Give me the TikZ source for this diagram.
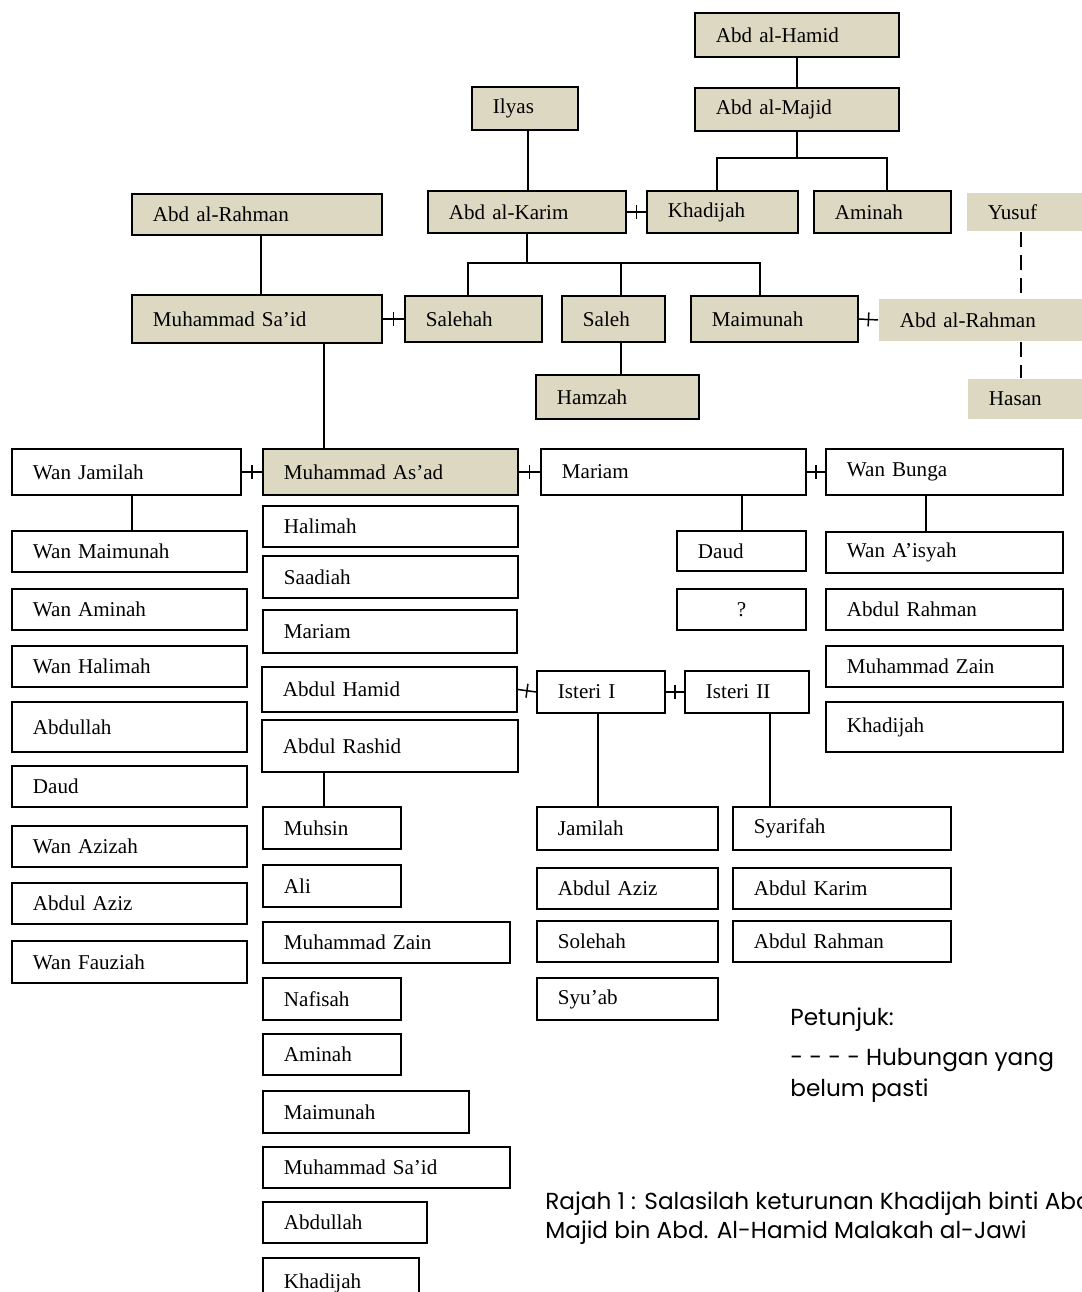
\documentclass[tikz,border=0pt]{standalone}
\usepackage{fontspec}
\setmainfont{Liberation Serif}
\newfontfamily\capfont{Poppins}
\usetikzlibrary{decorations.markings}

\definecolor{kinfill}{RGB}{221,216,194}

\tikzset{
  person/.style={draw, line width=1.1pt, anchor=north west, inner xsep=0.42cm, inner ysep=0pt,
    align=left, font=\fontsize{12}{14}\selectfont},
  kin/.style={fill=kinfill},
  ghost/.style={draw=none, fill=kinfill},
  link/.style={line width=0.85pt},
  unsure/.style={line width=0.85pt, dash pattern=on 0.3cm off 0.16cm},
  spouse/.style={link, postaction={decorate},
    decoration={markings, mark=at position 0.5 with {\draw[link] (0,-7) -- (0,7);}}},
  note/.style={anchor=base west, inner sep=0pt, font=\capfont\fontsize{13.2}{17}\selectfont}
}

% box from its top left corner, width and height in pixels
\newcommand{\person}[7][]{%
  \pgfmathsetmacro\tw{(#5-42)*0.02}%
  \node[person,#1,minimum width=#5*0.02cm,minimum height=#6*0.02cm,text width=\tw cm] (#2) at (#3,#4) {#7};%
}

\begin{document}
\begin{tikzpicture}[x=0.02cm,y=-0.02cm]
  \useasboundingbox (0,0) rectangle (1082,1292);

  % ancestors
  \person[kin]{hamid}{694}{12}{204}{44}{Abd al-Hamid}
  \person[kin]{majid}{694}{87}{204}{43}{Abd al-Majid}
  \person[kin]{ilyas}{471}{86}{106}{43}{Ilyas}
  \person[kin]{karim}{427}{190}{198}{42}{Abd al-Karim}
  \person[kin]{khadijah}{646}{190}{151}{42}{Khadijah}
  \person[kin]{aminah}{813}{190}{137}{42}{Aminah}
  \person[ghost]{yusuf}{966}{192}{116}{38}{Yusuf}
  \person[kin]{rahmanA}{131}{193}{250}{41}{Abd al-Rahman}
  \person[kin]{said}{131}{294}{250}{48}{Muhammad Sa’id}
  \person[kin]{salehah}{404}{295}{137}{46}{Salehah}
  \person[kin]{saleh}{561}{295}{103}{46}{Saleh}
  \person[kin]{maimunah}{690}{295}{167}{46}{Maimunah}
  \person[ghost]{rahmanB}{878}{298}{204}{42}{Abd al-Rahman}
  \person[kin]{hamzah}{535}{374}{163}{44}{Hamzah}
  \person[ghost]{hasan}{967}{378}{115}{40}{Hasan}

  % Muhammad As'ad and his wives
  \person{jamilah}{11}{448}{229}{46}{Wan Jamilah}
  \person[kin]{asad}{262}{448}{255}{46}{Muhammad As’ad}
  \person{mariam}{540}{448}{265}{46}{Mariam}
  \person{bunga}{825}{448}{237}{46}{Wan Bunga}

  % children of Wan Jamilah
  \foreach \y/\h/\t [count=\i] in {530/41/Wan Maimunah, 588/41/Wan Aminah, 645/41/Wan Halimah,
      701/50/Abdullah, 765/41/Daud, 825/41/Wan Azizah, 882/41/Abdul Aziz, 940/42/Wan Fauziah}{
    \person{jam\i}{11}{\y}{235}{\h}{\t}
  }

  % children under Muhammad As'ad
  \person{halimah}{262}{505}{255}{41}{Halimah}
  \person{saadiah}{262}{555}{255}{42}{Saadiah}
  \person{mariamB}{262}{609}{254}{43}{Mariam}
  \person{hamidB}{261}{666}{255}{45}{Abdul Hamid}
  \person{rashid}{261}{719}{256}{52}{Abdul Rashid}

  % children of Abdul Rashid
  \foreach \y/\w/\h/\t [count=\i] in {806/138/42/Muhsin, 864/138/42/Ali, 921/247/41/Muhammad Zain,
      977/138/42/Nafisah, 1033/138/41/Aminah, 1090/206/42/Maimunah, 1146/247/41/Muhammad Sa’id,
      1201/164/41/Abdullah, 1257/156/50/Khadijah}{
    \person{ras\i}{262}{\y}{\w}{\h}{\t}
  }

  % wives of Abdul Hamid
  \person{isteriA}{536}{670}{128}{42}{Isteri I}
  \person{isteriB}{684}{670}{124}{42}{Isteri II}
  \foreach \y/\h/\t [count=\i] in {806/43/Jamilah, 867/41/Abdul Aziz, 920/41/Solehah, 977/42/Syu’ab}{
    \person{isa\i}{536}{\y}{181}{\h}{\t}
  }
  \foreach \y/\h/\t [count=\i] in {806/43/Syarifah, 867/41/Abdul Karim, 920/41/Abdul Rahman}{
    \person{isb\i}{732}{\y}{218}{\h}{\t}
  }

  % children of Mariam and Wan Bunga
  \person{daud}{676}{530}{129}{40}{Daud}
  \person[align=center]{unknown}{676}{588}{129}{41}{?}
  \foreach \y/\h/\t [count=\i] in {531/41/Wan A’isyah, 588/41/Abdul Rahman, 645/41/Muhammad Zain,
      701/50/Khadijah}{
    \person{bun\i}{825}{\y}{237}{\h}{\t}
  }

  % descent lines
  \coordinate (majidfork) at (797,158);
  \coordinate (karimfork) at (527,263);
  \draw[link] (hamid) -- (majid);
  \draw[link] (majid.south -| majidfork) -- (majidfork);
  \draw[link] (khadijah.north -| 717,0) |- (majidfork) -| (aminah.north -| 887,0);
  \draw[link] (ilyas.south -| 528,0) -- (karim.north -| 528,0);
  \draw[link] (karim.south -| karimfork) -- (karimfork);
  \draw[link] (salehah.north -| 468,0) |- (karimfork) -| (maimunah.north -| 760,0);
  \draw[link] (saleh.north -| 621,0) -- (karimfork -| 621,0);
  \draw[link] (saleh.south -| 621,0) -- (hamzah.north -| 621,0);
  \draw[link] (rahmanA.south -| 261,0) -- (said.north -| 261,0);
  \draw[link] (said.south -| 324,0) -- (asad.north -| 324,0);
  \draw[link] (jamilah.south -| 132,0) -- (jam1.north -| 132,0);
  \draw[link] (mariam.south -| 742,0) -- (daud.north -| 742,0);
  \draw[link] (bunga.south -| 926,0) -- (bun1.north -| 926,0);
  \draw[link] (rashid.south -| 324,0) -- (ras1.north -| 324,0);
  \draw[link] (isteriA.south -| 598,0) -- (isa1.north -| 598,0);
  \draw[link] (isteriB.south -| 770,0) -- (isb1.north -| 770,0);
  \draw[unsure] (yusuf.south -| 1021,0) -- (rahmanB.north -| 1021,0);
  \draw[unsure] (rahmanB.south -| 1021,0) -- (hasan.north -| 1021,0);

  % marriages
  \draw[spouse] (karim.east) -- (khadijah.west);
  \draw[spouse] (said.east) -- (salehah.west);
  \draw[spouse] (maimunah.east) -- (rahmanB.west);
  \draw[spouse] (jamilah.east) -- (asad.west);
  \draw[spouse] (asad.east) -- (mariam.west);
  \draw[spouse] (mariam.east) -- (bunga.west);
  \draw[spouse] (hamidB.east) -- (isteriA.west);
  \draw[spouse] (isteriA.east) -- (isteriB.west);

  % legend and caption
  \node[note] (petunjuk) at (790,1025) {Petunjuk:};
  \node[note] (legendA) at (790,1065) {- - - -\hspace{0.12cm}Hubungan yang};
  \node[note] (legendB) at (790,1096) {belum pasti};
  \node[note] (captionA) at (545,1209) {Rajah 1 : Salasilah keturunan Khadijah binti Abd.};
  \node[note] (captionB) at (545,1238) {Majid bin Abd. Al-Hamid Malakah al-Jawi};
\end{tikzpicture}
\end{document}
